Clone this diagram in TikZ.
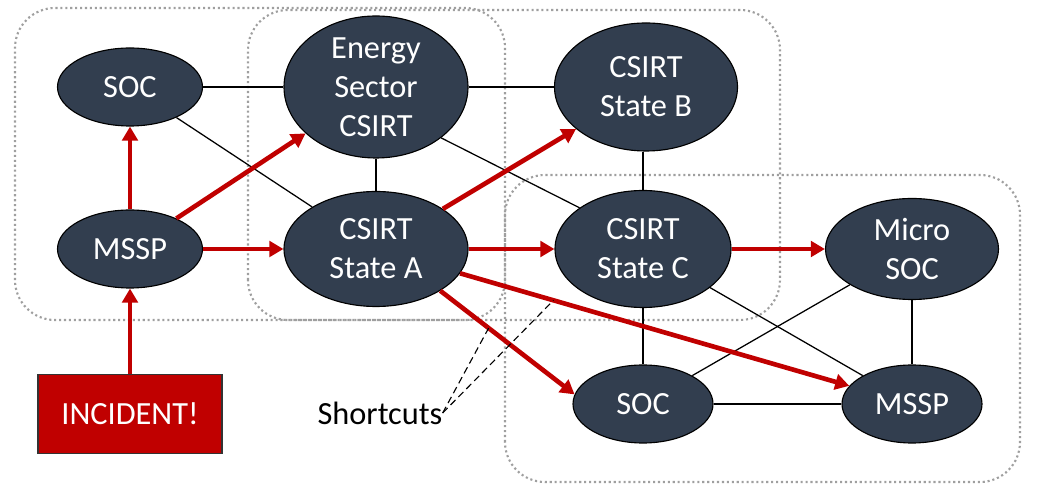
\documentclass[tikz,border=0pt]{standalone}
\usepackage{fontspec}
\setmainfont{Carlito}
\usetikzlibrary{positioning, arrows.meta, shapes.geometric}
\usepackage{xcolor}
\definecolor{nodeblue}{HTML}{323E4F}
\definecolor{alarmred}{HTML}{C00000}

\begin{document}
\begin{tikzpicture}[
      org/.style   = {ellipse, draw=black, line width=0.8pt, fill=nodeblue, text=white,
                      inner sep=-6pt, align=center, font=\fontsize{23}{27.7}\selectfont},
      alarm/.style = {rectangle, draw=black!80, line width=0.8pt, fill=alarmred, text=white,
                      minimum width=4.6cm, minimum height=1.975cm, font=\fontsize{23}{27.7}\selectfont},
      link/.style  = {black, line width=0.9pt},
      flow/.style  = {alarmred, line width=3.3pt, -{Triangle[length=10pt, width=11pt]}},
      zone/.style  = {gray!75, dotted, line width=1.5pt, rounded corners=1cm},
      hint/.style  = {black, dash pattern=on 5pt off 3pt, line width=0.8pt}
    ]
    \useasboundingbox (0,0) rectangle (26.075,12.1);

    \draw[zone] (0.375,4.1) rectangle (12.625,11.9);
    \draw[zone] (6.2,4.1) rectangle (19.5,11.85);
    \draw[zone] (12.625,0.05) rectangle (25.5,7.725);

    \node[org, minimum width=3.625cm, minimum height=1.95cm] (soc1) at (3.25,9.925) {SOC};
    \node[org, minimum width=3.625cm, minimum height=1.95cm] (mssp1) at (3.25,5.875) {MSSP};
    \node[org, minimum width=4.6cm, minimum height=3.55cm] (energy) at (9.4,9.925) {Energy\\Sector\\CSIRT};
    \node[org, minimum width=4.6cm, minimum height=2.875cm] (stateA) at (9.4,5.875) {CSIRT\\State A};
    \node[org, minimum width=4.575cm, minimum height=3.2cm] (stateB) at (16.15,9.925) {CSIRT\\State B};
    \node[org, minimum width=4.4cm, minimum height=2.925cm] (stateC) at (16.075,5.875) {CSIRT\\State C};
    \node[org, minimum width=4.325cm, minimum height=2.525cm] (micro) at (22.8,5.875) {Micro\\SOC};
    \node[org, minimum width=3.5cm, minimum height=1.95cm] (soc2) at (16.075,2.0) {SOC};
    \node[org, minimum width=3.5cm, minimum height=1.95cm] (mssp2) at (22.8,2.0) {MSSP};
    \node[alarm] (incident) at (3.25,1.75) {INCIDENT!};
    \node[inner sep=0pt, font=\fontsize{23}{27.7}\selectfont] (shortcuts) at (9.5,1.775) {Shortcuts};

    \draw[link] (soc1) -- (energy);
    \draw[link] (soc1) -- (stateA);
    \draw[link] (energy) -- (stateA);
    \draw[link] (energy) -- (stateB);
    \draw[link] (energy.-38) -- (stateC.147);
    \draw[link] (stateB.south -| stateC) -- (stateC);
    \draw[link] (stateC) -- (soc2);
    \draw[link] (stateC) -- (mssp2);
    \draw[link] (micro) -- (soc2);
    \draw[link] (micro) -- (mssp2);
    \draw[link] (soc2) -- (mssp2);

    \draw[flow] (incident) -- (mssp1);
    \draw[flow] (mssp1) -- (soc1);
    \draw[flow] (mssp1) -- (energy);
    \draw[flow] (mssp1) -- (stateA);
    \draw[flow] (stateA) -- (stateB);
    \draw[flow] (stateA) -- (stateC);
    \draw[flow] (stateA.-33) -- coordinate[pos=0.36] (cutsoc) (soc2.172);
    \draw[flow] (stateA) -- coordinate[pos=0.24] (cutmssp) (mssp2);
    \draw[flow] (stateC) -- (micro);

    \draw[hint] (shortcuts.east) -- (cutsoc);
    \draw[hint] (shortcuts.east) -- (cutmssp);
  \end{tikzpicture}
\end{document}
